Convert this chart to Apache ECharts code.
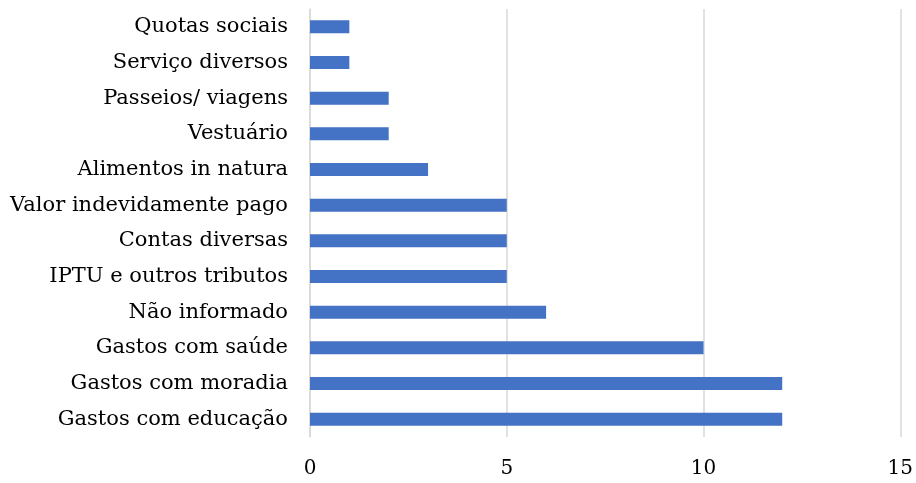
<!DOCTYPE html>
<html>
<head>
<meta charset="utf-8">
<script src="https://cdn.jsdelivr.net/npm/echarts@6/dist/echarts.min.js"></script>
<style>
  html, body { margin: 0; padding: 0; background: #ffffff; }
  #chart { width: 916px; height: 483px; }
</style>
</head>
<body>
<div id="chart"></div>
<script>
// Categories listed bottom-to-top (category axis starts at the bottom)
const categories = [
  'Gastos com educação',
  'Gastos com moradia',
  'Gastos com saúde',
  'Não informado',
  'IPTU e outros tributos',
  'Contas diversas',
  'Valor indevidamente pago',
  'Alimentos in natura',
  'Vestuário',
  'Passeios/ viagens',
  'Serviço diversos',
  'Quotas sociais'
];
const values = [12, 12, 10, 6, 5, 5, 5, 3, 2, 2, 1, 1];
const xTicks = { min: 0, max: 15, interval: 5 };

const fontFamily = '"DejaVu Serif", serif';
const chart = echarts.init(document.getElementById('chart'), null, { renderer: 'canvas' });
chart.setOption({
  animation: false,
  backgroundColor: '#ffffff',
  grid: { left: 310, right: 12, top: 9, bottom: 46, containLabel: false },
  xAxis: {
    type: 'value',
    min: xTicks.min,
    max: xTicks.max,
    interval: xTicks.interval,
    axisLine: { show: false },
    axisTick: { show: false },
    axisLabel: { color: '#000000', fontFamily: fontFamily, fontSize: 20, margin: 22 },
    splitLine: { show: true, lineStyle: { color: '#d9d9d9', width: 1.5 } }
  },
  yAxis: {
    type: 'category',
    data: categories,
    axisLine: { show: true, lineStyle: { color: '#d9d9d9', width: 1.5 } },
    axisTick: { show: false },
    axisLabel: { color: '#000000', fontFamily: fontFamily, fontSize: 21, margin: 22 }
  },
  series: [{
    type: 'bar',
    data: values,
    barWidth: 13,
    itemStyle: { color: '#4472c4' }
  }]
});
</script>
</body>
</html>
